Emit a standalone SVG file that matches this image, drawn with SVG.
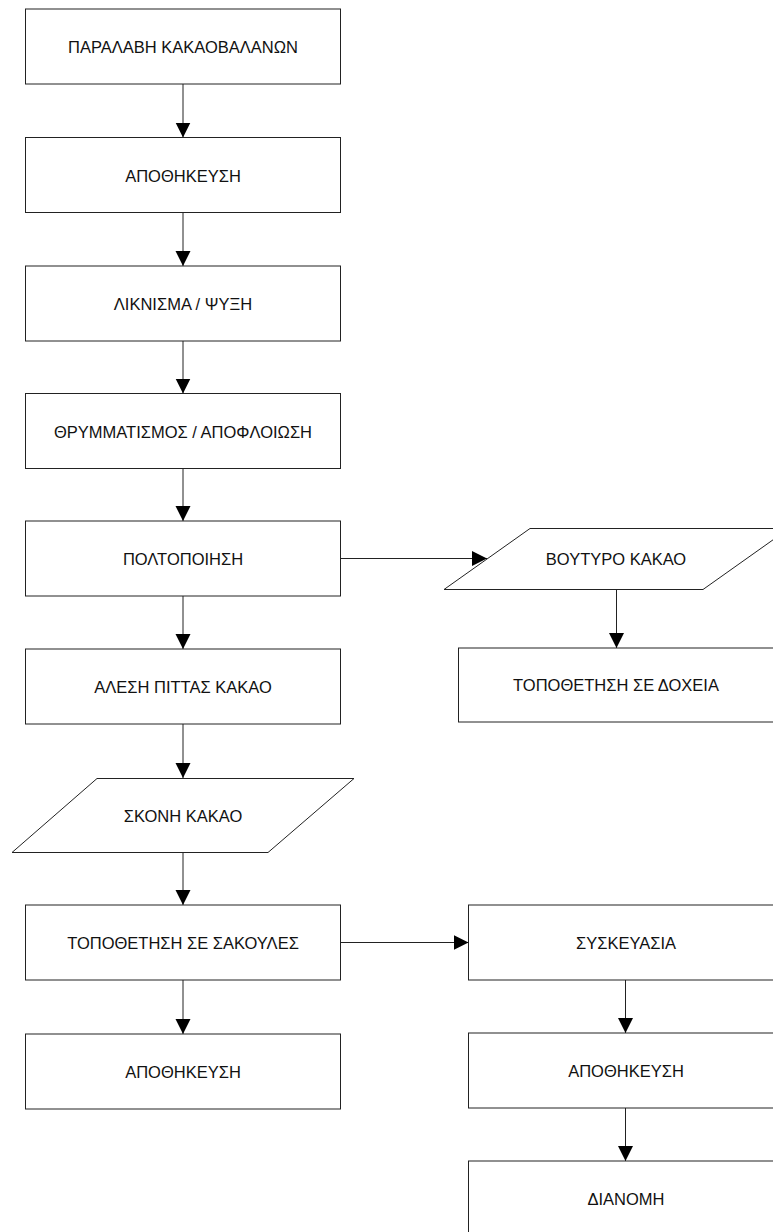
<svg xmlns="http://www.w3.org/2000/svg" width="773" height="1232" viewBox="0 0 773 1232">
<style>
.n rect, .n polygon { fill: #fff; stroke: #222; stroke-width: 1; }
.n text { font-family: "Liberation Sans", Arial, sans-serif; font-size: 16.5px; fill: #111; text-anchor: middle; }
#connectors line { stroke: #222; stroke-width: 1; fill: none; marker-end: url(#ah); }
</style>
<defs>
<marker id="ah" markerUnits="userSpaceOnUse" markerWidth="15" markerHeight="16" refX="15" refY="8" orient="auto">
<path d="M0,0.5 L15,8 L0,15.5 z" fill="#000"/>
</marker>
</defs>
<rect width="773" height="1232" fill="#fff"/>
<g id="connectors">
<line x1="183" y1="84" x2="183" y2="137.5"/>
<line x1="183" y1="212.5" x2="183" y2="266"/>
<line x1="183" y1="341" x2="183" y2="393.5"/>
<line x1="183" y1="468.5" x2="183" y2="521"/>
<line x1="183" y1="596" x2="183" y2="649"/>
<line x1="183" y1="724" x2="183" y2="778"/>
<line x1="183" y1="852" x2="183" y2="905"/>
<line x1="183" y1="980" x2="183" y2="1034"/>
<line x1="340.5" y1="558.5" x2="487" y2="558.5"/>
<line x1="616.5" y1="589" x2="616.5" y2="648"/>
<line x1="340.5" y1="942.5" x2="468.5" y2="942.5"/>
<line x1="625.5" y1="980" x2="625.5" y2="1033"/>
<line x1="625.5" y1="1108" x2="625.5" y2="1161"/>
</g>
<g id="n1" class="n"><rect x="25.5" y="9" width="315" height="75"/><text x="183" y="53">ΠΑΡΑΛΑΒΗ ΚΑΚΑΟΒΑΛΑΝΩΝ</text></g>
<g id="n2" class="n"><rect x="25.5" y="137.5" width="315" height="75"/><text x="183" y="181.5">ΑΠΟΘΗΚΕΥΣΗ</text></g>
<g id="n3" class="n"><rect x="25.5" y="266" width="315" height="75"/><text x="183" y="310">ΛΙΚΝΙΣΜΑ / ΨΥΞΗ</text></g>
<g id="n4" class="n"><rect x="25.5" y="393.5" width="315" height="75"/><text x="183" y="438">ΘΡΥΜΜΑΤΙΣΜΟΣ / ΑΠΟΦΛΟΙΩΣΗ</text></g>
<g id="n5" class="n"><rect x="25.5" y="521" width="315" height="75"/><text x="183" y="565">ΠΟΛΤΟΠΟΙΗΣΗ</text></g>
<g id="n6" class="n"><rect x="25.5" y="649" width="315" height="75"/><text x="183" y="693">ΑΛΕΣΗ ΠΙΤΤΑΣ ΚΑΚΑΟ</text></g>
<g id="n7" class="n"><polygon points="97,778.5 354,778.5 268,852.5 12,852.5"/><text x="183" y="822">ΣΚΟΝΗ ΚΑΚΑΟ</text></g>
<g id="n8" class="n"><rect x="25.5" y="905" width="315" height="75"/><text x="183" y="948.5">ΤΟΠΟΘΕΤΗΣΗ ΣΕ ΣΑΚΟΥΛΕΣ</text></g>
<g id="n9" class="n"><rect x="25.5" y="1034" width="315" height="75"/><text x="183" y="1078">ΑΠΟΘΗΚΕΥΣΗ</text></g>
<g id="n10" class="n"><polygon points="530,528.5 789,528.5 703,589.5 444,589.5"/><text x="616" y="564.5">ΒΟΥΤΥΡΟ ΚΑΚΑΟ</text></g>
<g id="n11" class="n"><rect x="458.5" y="648" width="316" height="74"/><text x="616" y="691">ΤΟΠΟΘΕΤΗΣΗ ΣΕ ΔΟΧΕΙΑ</text></g>
<g id="n12" class="n"><rect x="468.5" y="905" width="316" height="75"/><text x="626" y="948.5">ΣΥΣΚΕΥΑΣΙΑ</text></g>
<g id="n13" class="n"><rect x="468.5" y="1033" width="316" height="75"/><text x="626" y="1077">ΑΠΟΘΗΚΕΥΣΗ</text></g>
<g id="n14" class="n"><rect x="468.5" y="1161" width="316" height="75"/><text x="626" y="1204.5">ΔΙΑΝΟΜΗ</text></g>
</svg>
